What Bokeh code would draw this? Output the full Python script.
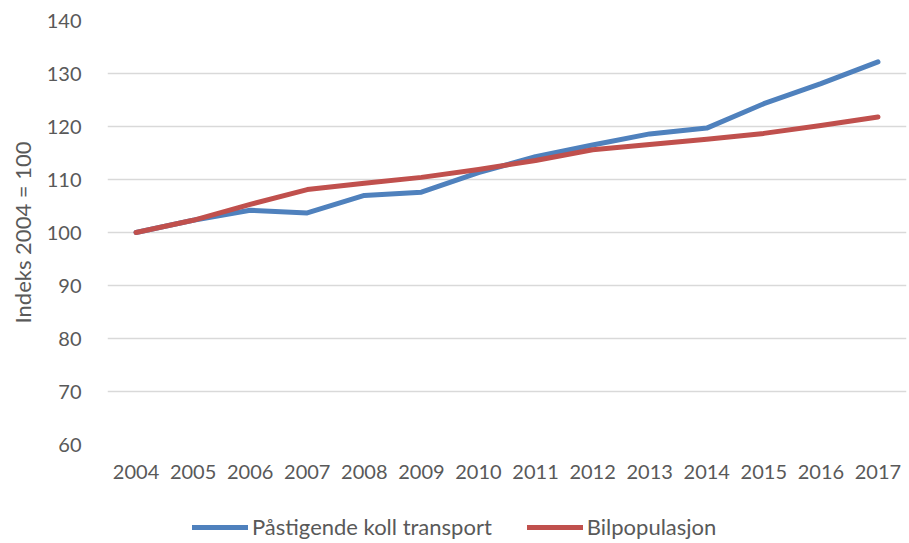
from bokeh.plotting import figure
from bokeh.layouts import column
from bokeh.models import Legend, LegendItem, FixedTicker, Range1d
from bokeh.embed import file_html
from bokeh.resources import INLINE

years = ["2004", "2005", "2006", "2007", "2008", "2009", "2010",
         "2011", "2012", "2013", "2014", "2015", "2016", "2017"]
pastigende = [100.0, 102.3, 104.2, 103.7, 107.0, 107.6, 111.3,
              114.3, 116.5, 118.6, 119.7, 124.3, 128.1, 132.2]
bilpopulasjon = [100.0, 102.3, 105.3, 108.1, 109.3, 110.4, 111.9,
                 113.6, 115.6, 116.6, 117.6, 118.7, 120.2, 121.8]
y_ticks = [60, 70, 80, 90, 100, 110, 120, 130, 140]
series_names = ["Påstigende koll transport", "Bilpopulasjon"]
colors = ["#4F81BD", "#C0504D"]

FONT = "Lato"
TXT = "#595959"

p = figure(width=909, height=493, x_range=years, y_range=Range1d(60, 140),
           output_backend="svg", toolbar_location=None,
           min_border_left=107, min_border_right=3, min_border_top=20,
           min_border_bottom=49, outline_line_color=None)

p.line(years, pastigende, line_color=colors[0], line_width=5, line_cap="round", line_join="round")
p.line(years, bilpopulasjon, line_color=colors[1], line_width=5, line_cap="round", line_join="round")

p.yaxis.ticker = FixedTicker(ticks=y_ticks)
p.xgrid.grid_line_color = None
p.ygrid.grid_line_color = "#D9D9D9"
p.ygrid.grid_line_width = 1.5

for ax in (p.xaxis[0], p.yaxis[0]):
    ax.axis_line_color = None
    ax.major_tick_line_color = None
    ax.minor_tick_line_color = None
    ax.major_label_text_font = FONT
    ax.major_label_text_font_size = "20px"
    ax.major_label_text_color = TXT

p.yaxis.major_label_standoff = 20
p.xaxis.major_label_standoff = 14
p.yaxis.axis_label = "Indeks 2004 = 100"
p.yaxis.axis_label_text_font = FONT
p.yaxis.axis_label_text_font_size = "22px"
p.yaxis.axis_label_text_font_style = "normal"
p.yaxis.axis_label_text_color = TXT
p.yaxis.axis_label_standoff = 8
p.x_range.range_padding = 0

# legend strip below the chart (frame aligned with main chart, starts at x=107)
lg = figure(width=909, height=50, x_range=Range1d(0, 1), y_range=Range1d(0, 1),
            output_backend="svg", toolbar_location=None,
            min_border=0, outline_line_color=None)
lg.axis.visible = False
lg.grid.visible = False
d1 = lg.line([-5, -4], [-5, -4], line_color=colors[0], line_width=5, line_cap="round")
d2 = lg.line([-5, -4], [-5, -4], line_color=colors[1], line_width=5, line_cap="round")

legend = Legend(items=[LegendItem(label=series_names[0], renderers=[d1]),
                       LegendItem(label=series_names[1], renderers=[d2])],
                orientation="horizontal", location=(85, 3),
                glyph_width=56, glyph_height=26, label_standoff=4, spacing=35,
                padding=0, margin=0, border_line_color=None,
                background_fill_alpha=0,
                label_text_font=FONT, label_text_font_size="22px", label_text_color=TXT)
lg.add_layout(legend, "center")

open("out.html", "w").write(file_html(column(p, lg, spacing=0), INLINE))
